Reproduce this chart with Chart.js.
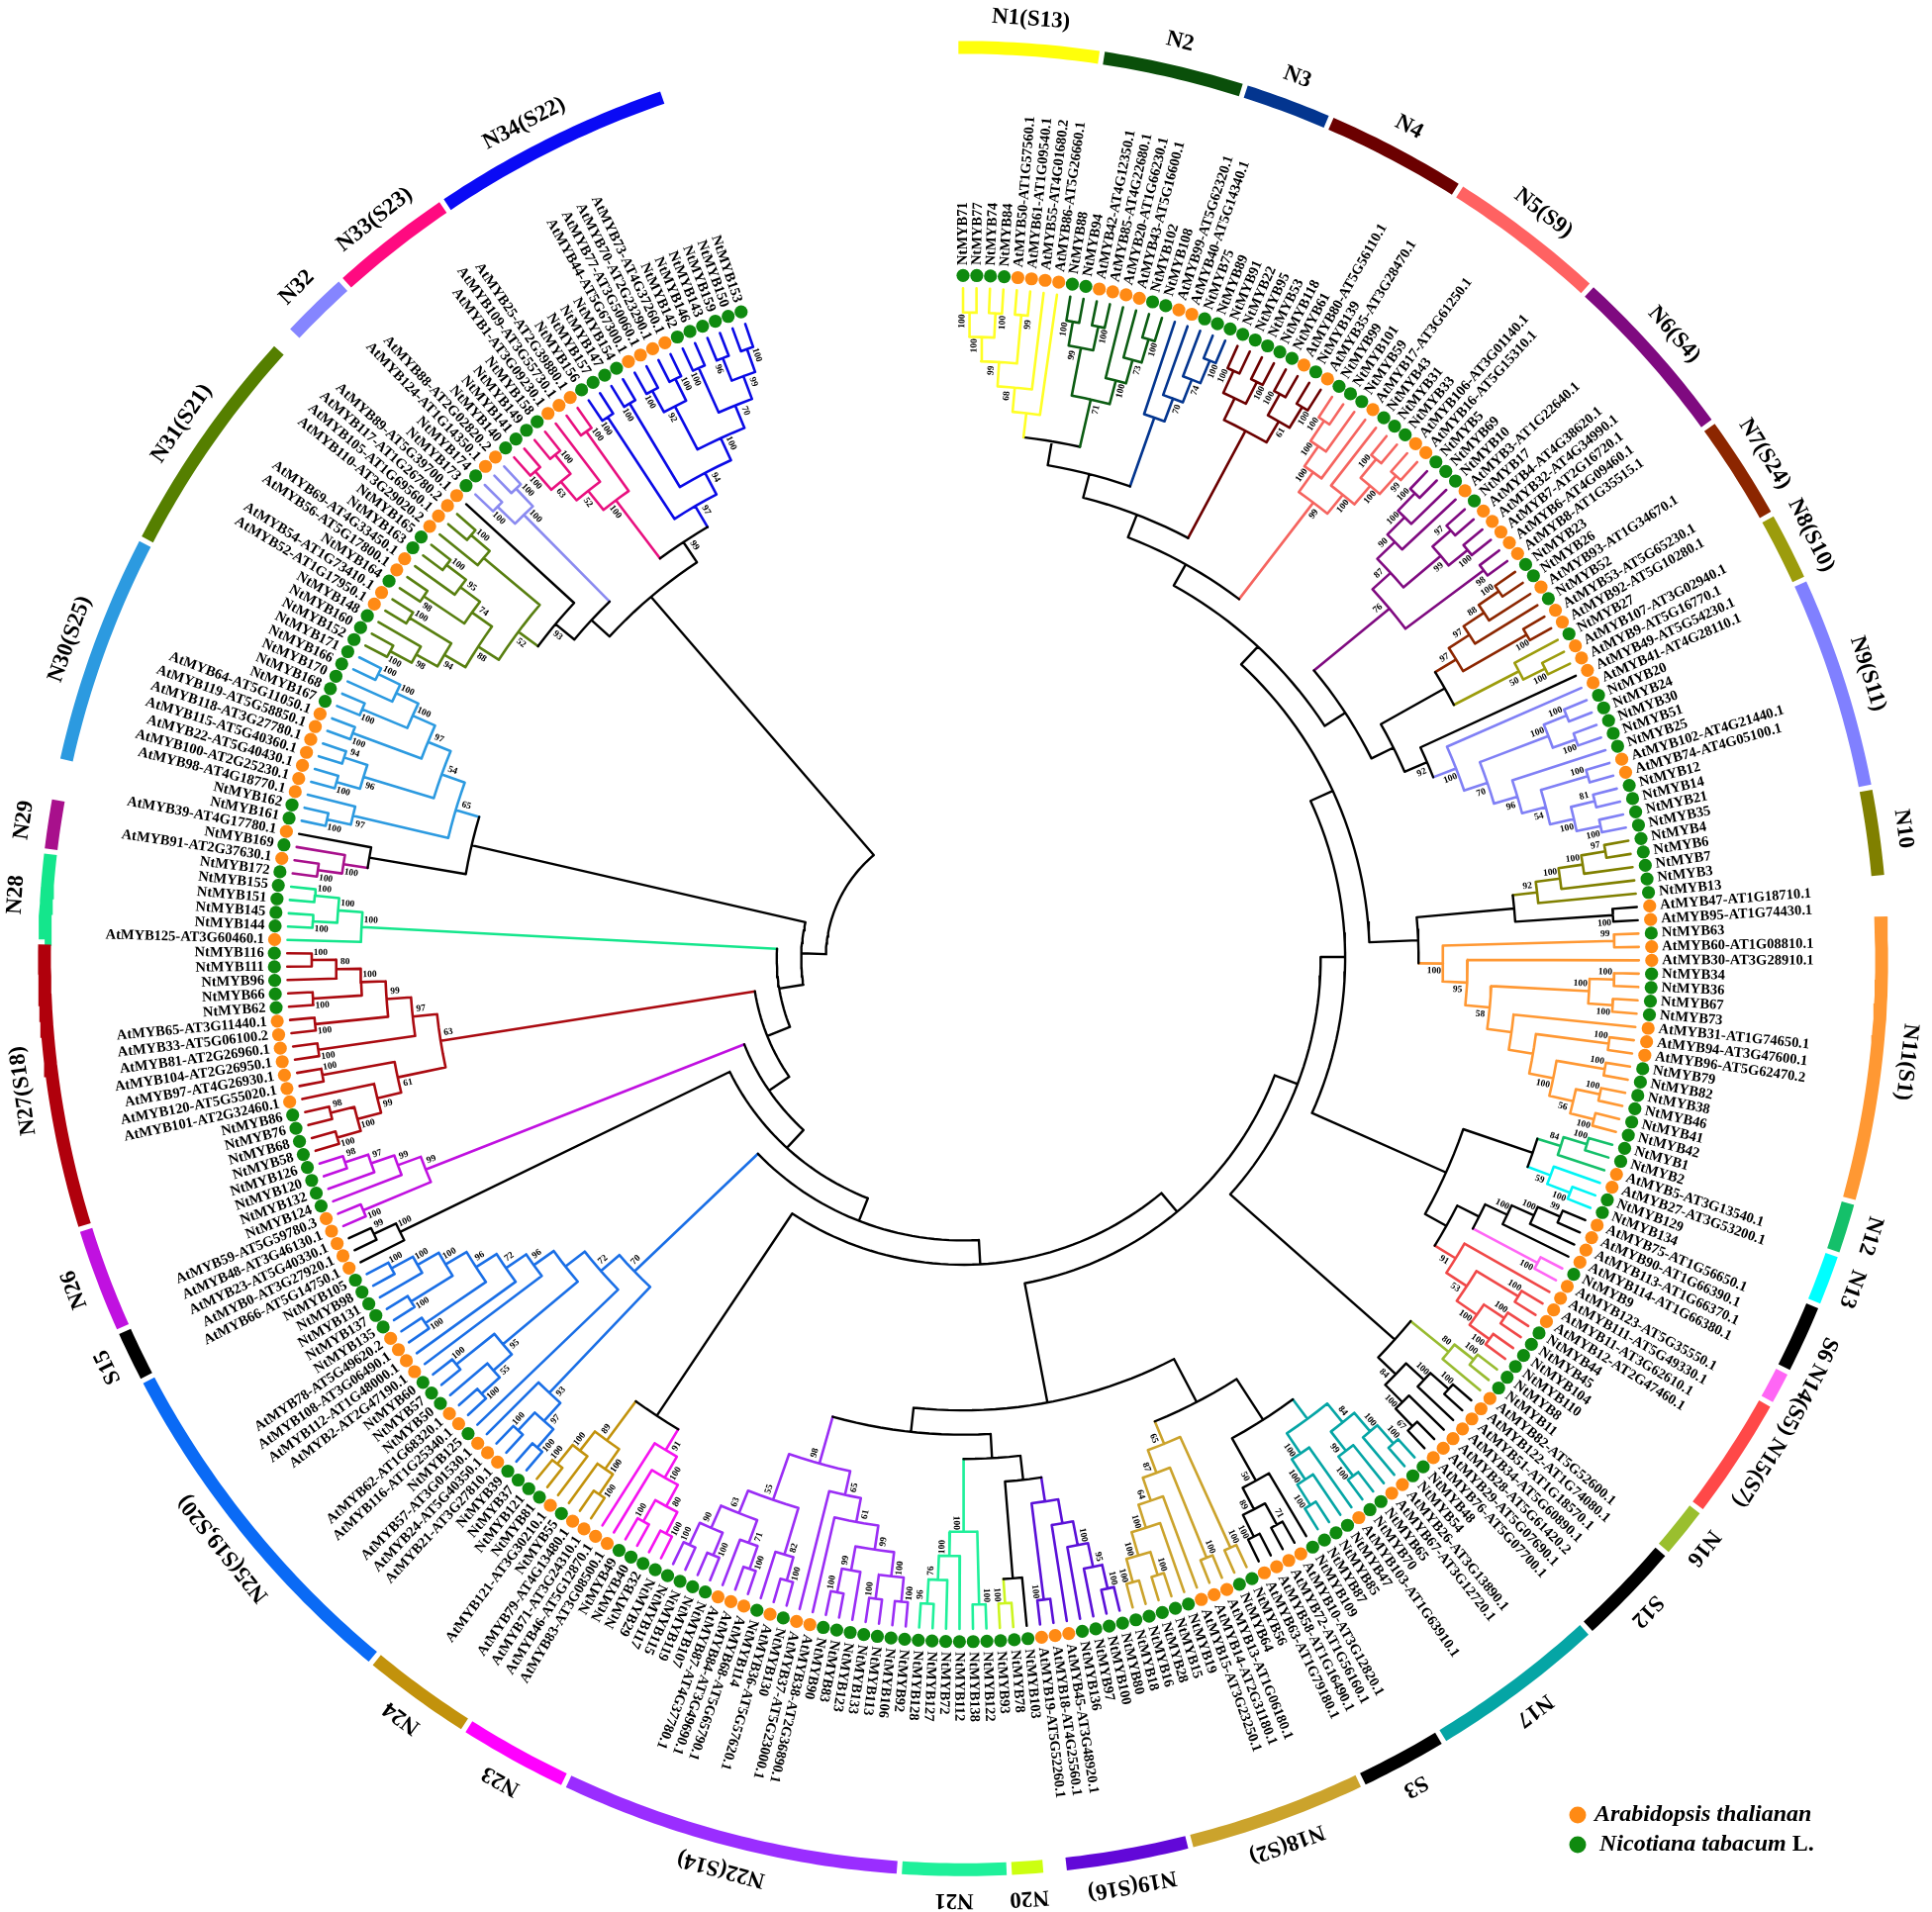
<!DOCTYPE html>
<html><head><meta charset="utf-8">
<style>html,body{margin:0;padding:0;background:#fff}canvas{display:block}</style>
<script src="https://cdn.jsdelivr.net/npm/chart.js@4"></script>
</head><body>
<canvas id="c" width="1952" height="1932"></canvas>
<script>
// ---------- leaves, clockwise from the top ----------
const leafNames = [
"NtMYB71","NtMYB77","NtMYB74","NtMYB84","AtMYB50-AT1G57560.1","AtMYB61-AT1G09540.1","AtMYB55-AT4G01680.2","AtMYB86-AT5G26660.1",
"NtMYB88","NtMYB94","AtMYB42-AT4G12350.1","AtMYB85-AT4G22680.1","AtMYB20-AT1G66230.1","AtMYB43-AT5G16600.1","NtMYB102","NtMYB108",
"AtMYB99-AT5G62320.1","AtMYB40-AT5G14340.1","NtMYB75","NtMYB89","NtMYB91",
"NtMYB22","NtMYB95","NtMYB53","NtMYB118","NtMYB61","AtMYB80-AT5G56110.1","NtMYB139","AtMYB35-AT3G28470.1",
"NtMYB99","NtMYB101","NtMYB59","AtMYB17-AT3G61250.1","NtMYB43","NtMYB31","NtMYB33","AtMYB106-AT3G01140.1","AtMYB16-AT5G15310.1",
"NtMYB5","NtMYB69","NtMYB10","AtMYB3-AT1G22640.1","NtMYB17","AtMYB4-AT4G38620.1","AtMYB32-AT4G34990.1","AtMYB7-AT2G16720.1","AtMYB6-AT4G09460.1","AtMYB8-AT1G35515.1",
"NtMYB23","NtMYB26","AtMYB93-AT1G34670.1","NtMYB52","AtMYB53-AT5G65230.1","AtMYB92-AT5G10280.1",
"NtMYB27","AtMYB107-AT3G02940.1","AtMYB9-AT5G16770.1","AtMYB49-AT5G54230.1",
"AtMYB41-AT4G28110.1","NtMYB20","NtMYB24","NtMYB30","NtMYB51","NtMYB25","AtMYB102-AT4G21440.1","AtMYB74-AT4G05100.1","NtMYB12","NtMYB14","NtMYB21","NtMYB35",
"NtMYB4","NtMYB6","NtMYB7","NtMYB3","NtMYB13","AtMYB47-AT1G18710.1","AtMYB95-AT1G74430.1",
"NtMYB63","AtMYB60-AT1G08810.1","AtMYB30-AT3G28910.1","NtMYB34","NtMYB36","NtMYB67","NtMYB73","AtMYB31-AT1G74650.1","AtMYB94-AT3G47600.1","AtMYB96-AT5G62470.2","NtMYB79","NtMYB82","NtMYB38","NtMYB46","NtMYB41","NtMYB42",
"NtMYB1","NtMYB2","AtMYB5-AT3G13540.1","AtMYB27-AT3G53200.1","NtMYB129","NtMYB134",
"AtMYB75-AT1G56650.1","AtMYB90-AT1G66390.1","AtMYB113-AT1G66370.1","AtMYB114-AT1G66380.1","NtMYB9","AtMYB123-AT5G35550.1",
"AtMYB111-AT5G49330.1","AtMYB11-AT3G62610.1","AtMYB12-AT2G47460.1","NtMYB44","NtMYB45","NtMYB104","NtMYB110",
"NtMYB8","NtMYB11","AtMYB82-AT5G52600.1","AtMYB122-AT1G74080.1","AtMYB51-AT1G18570.1","AtMYB34-AT5G60890.1","AtMYB28-AT5G61420.2","AtMYB29-AT5G07690.1","AtMYB76-AT5G07700.1",
"NtMYB48","NtMYB54","AtMYB26-AT3G13890.1","AtMYB67-AT3G12720.1","NtMYB65","NtMYB70","AtMYB103-AT1G63910.1","NtMYB47","NtMYB85","NtMYB87",
"NtMYB109","AtMYB10-AT3G12820.1","AtMYB72-AT1G56160.1","AtMYB58-AT1G16490.1","AtMYB63-AT1G79180.1",
"NtMYB56","NtMYB64","AtMYB13-AT1G06180.1","AtMYB14-AT2G31180.1","AtMYB15-AT3G23250.1","NtMYB19","NtMYB15","NtMYB28","NtMYB16","NtMYB18",
"NtMYB80","NtMYB100","NtMYB97","NtMYB136","AtMYB45-AT3G48920.1","AtMYB18-AT4G25560.1","AtMYB19-AT5G52260.1","NtMYB103","NtMYB78","NtMYB93",
"NtMYB122","NtMYB138","NtMYB112","NtMYB72","NtMYB127","NtMYB128",
"NtMYB92","NtMYB106","NtMYB113","NtMYB133","NtMYB123","NtMYB83","NtMYB90","AtMYB38-AT2G36890.1","AtMYB37-AT5G23000.1","NtMYB130","AtMYB36-AT5G57620.1","NtMYB114","AtMYB68-AT5G65790.1","AtMYB84-AT3G49690.1","AtMYB87-AT4G37780.1","NtMYB107","NtMYB119","NtMYB115","NtMYB117",
"NtMYB29","NtMYB32","NtMYB40","NtMYB49","AtMYB83-AT3G08500.1","AtMYB46-AT5G12870.1",
"AtMYB71-AT3G24310.1","AtMYB79-AT4G13480.1","NtMYB55","AtMYB121-AT3G30210.1","NtMYB81","NtMYB121",
"NtMYB37","NtMYB39","AtMYB21-AT3G27810.1","AtMYB24-AT5G40350.1","AtMYB57-AT3G01530.1","NtMYB125","AtMYB116-AT1G25340.1","AtMYB62-AT1G68320.1","NtMYB50","NtMYB57","NtMYB60","AtMYB2-AT2G47190.1","AtMYB112-AT1G48000.1","AtMYB108-AT3G06490.1","AtMYB78-AT5G49620.2","NtMYB135","NtMYB137","NtMYB131","NtMYB98","NtMYB105",
"AtMYB66-AT5G14750.1","AtMYB0-AT3G27920.1","AtMYB23-AT5G40330.1","AtMYB48-AT3G46130.1","AtMYB59-AT5G59780.3","NtMYB124","NtMYB132","NtMYB120","NtMYB126",
"NtMYB58","NtMYB68","NtMYB76","NtMYB86","AtMYB101-AT2G32460.1","AtMYB120-AT5G55020.1","AtMYB97-AT4G26930.1","AtMYB104-AT2G26950.1","AtMYB81-AT2G26960.1","AtMYB33-AT5G06100.2","AtMYB65-AT3G11440.1","NtMYB62","NtMYB66","NtMYB96","NtMYB111","NtMYB116",
"AtMYB125-AT3G60460.1","NtMYB144","NtMYB145","NtMYB151","NtMYB155","NtMYB172","AtMYB91-AT2G37630.1","NtMYB169","AtMYB39-AT4G17780.1",
"NtMYB161","NtMYB162","AtMYB98-AT4G18770.1","AtMYB100-AT2G25230.1","AtMYB22-AT5G40430.1","AtMYB115-AT5G40360.1","AtMYB118-AT3G27780.1","AtMYB119-AT5G58850.1","AtMYB64-AT5G11050.1","NtMYB167","NtMYB168","NtMYB170","NtMYB166","NtMYB171",
"NtMYB152","NtMYB160","NtMYB148","AtMYB52-AT1G17950.1","AtMYB54-AT1G73410.1","NtMYB164","AtMYB56-AT5G17800.1","AtMYB69-AT4G33450.1","NtMYB163","NtMYB165","AtMYB110-AT3G29020.2","AtMYB105-AT1G69560.1","AtMYB117-AT1G26780.2","AtMYB89-AT5G39700.1",
"NtMYB173","NtMYB174","AtMYB124-AT1G14350.1","AtMYB88-AT2G02820.2",
"NtMYB140","NtMYB141","NtMYB149","NtMYB158","AtMYB1-AT3G09230.1","AtMYB109-AT3G55730.1","AtMYB25-AT2G39880.1",
"NtMYB156","NtMYB157","NtMYB147","NtMYB154","AtMYB44-AT5G67300.1","AtMYB77-AT3G50060.1","AtMYB70-AT2G23290.1","AtMYB73-AT4G37260.1","NtMYB142","NtMYB146","NtMYB143","NtMYB159","NtMYB150","NtMYB153"];

// ---------- clade topologies: [bootstrap, clockwise child, clockwise child]; 0 = next leaf ----------
const N1=[0,[68,[99,[100,[100,0,0],[100,0,0]],[99,0,0]],0],0];
const N2=[71,[99,[100,0,0],[100,0,0]],[100,0,[73,0,[100,0,0]]]];
const N3=[0,0,[70,0,[74,0,[100,0,0]]]];
const N4=[0,[0,[100,0,0],[100,0,0]],[61,[100,0,0],[100,0,0]]];
const N5=[99,[100,[100,[100,0,0],0],0],[100,0,[100,[100,0,0],[99,0,0]]]];
const N6=[76,[87,[90,[100,[100,0,0],0],0],[99,[97,0,0],[100,0,0]]],[98,0,0]];
const N7=[97,[97,[88,[100,0,0],0],0],[100,0,0]];
const N8=[50,0,[100,0,0]];
const N9=[100,0,[70,[100,[100,0,0],[100,0,0]],[96,0,[54,[100,0,0],[100,[81,0,0],[100,0,0]]]]]];
const N10=[92,[100,[100,[97,0,0],0],0],0];
const N11=[100,[99,0,0],[95,0,[58,[100,[100,0,0],[100,0,0]],[0,0,[0,[100,0,0],[100,[100,0,0],[56,[100,0,0],[100,0,0]]]]]]]];
const N12=[84,[100,0,0],0];
const N13=[59,0,[100,0,0]];
const S6=[100,[100,[99,0,0],0],0];
const N14=[100,0,0];
const N15=[91,0,[53,[100,0,0],[100,[100,0,0],[100,0,0]]]];
const N16=[80,[100,0,0],0];
const S12=[84,[100,[100,0,0],0],[100,0,[67,0,0]]];
const N17=[0,[84,[100,[100,0,0],0],[99,0,[100,0,0]]],[100,0,[100,0,[100,0,0]]]];
const S3=[50,0,[89,[71,0,0],[100,0,0]]];
const N18=[65,[100,0,0],[87,[100,0,0],[64,0,[100,0,[100,[100,0,0],[100,0,0]]]]]];
const N19=[0,[0,[100,[95,[100,0,0],0],0],0],[100,0,0]];
const N20=[100,0,0];
const N21=[100,[100,0,0],[100,0,[76,0,[96,0,0]]]];
const N22=[98,[65,[61,[99,[100,[100,0,0],[100,0,0]],[99,0,[100,0,0]]],0],0],[55,[82,[100,0,0],0],[63,[71,[100,0,0],0],[90,[100,0,0],[100,0,0]]]]];
const N23=[91,[100,[80,[100,0,0],[100,0,0]],0],0];
const N24=[89,[100,[100,0,0],0],[100,0,[100,0,0]]];
const N25=[70,[93,[97,[100,0,0],[100,0,0]],0],[72,0,[0,[95,[55,[100,0,0],0],[100,0,0]],[96,0,[72,0,[96,[100,0,0],[100,[100,0,0],[100,0,[100,0,0]]]]]]]]];
const S15=[100,0,[99,0,0]];
const N26=[99,[100,0,0],[99,0,[97,0,[98,0,0]]]];
const N27=[63,[61,[99,[100,[100,0,0],[98,0,0]],0],[100,0,0]],[97,[100,0,0],[99,[100,0,0],[100,[100,0,0],[80,0,[100,0,0]]]]]];
const N28=[100,0,[100,[100,0,0],[100,0,0]]];
const N29=[100,[100,0,0],0];
const N30=[65,[97,[100,0,0],0],[54,[96,[100,0,0],[94,0,0]],[97,[100,0,0],[100,[100,0,0],[100,0,[100,0,0]]]]]];
const N31=[52,[88,[94,[98,[100,0,0],0],[100,0,0]],[74,[98,0,0],[95,0,[100,0,0]]]],[0,0,[100,0,0]]];
const N32=[100,[100,0,0],[100,0,0]];
const N33=[100,[52,[63,[100,0,0],[100,0,0]],0],[100,0,0]];
const N34=[97,[100,0,0],[94,[100,0,0],[100,[92,[100,0,0],[100,0,0]],[70,[100,0,0],[99,[96,0,0],[100,0,0]]]]]];

// ---------- backbone joining the clades ----------
const b1=[0,[0,[0,[0,N1,N2],N3],N4],N5];
const b2=[0,N6,[0,[0,N7,N8],[92,0,N9]]];
const b3=[0,[0,N10,[100,0,0]],N11];
const b4=[0,[0,b1,b2],b3];
const b5=[0,[0,N12,N13],[0,[0,S6,N14],N15]];
const b6=[0,[0,b4,b5],[0,N16,S12]];
const b7=[0,[0,N17,S3],N18];
const b8=[0,[0,[0,N19,[0,0,N20]],N21],N22];
const b9=[0,b7,b8];
const b10=[0,[0,[0,b6,b9],[0,N23,N24]],N25];
const b11=[0,[0,[0,[0,b10,S15],N26],N27],N28];
const b12=[0,[0,N29,0],N30];
const b13=[0,[0,[93,N31,0],N32],[99,N33,N34]];
const treeRoot=[0,[0,b11,b12],b13];

const cladeColours=new Map([[N1,"#ffff26"],[N2,"#0b5c12"],[N3,"#03358f"],[N4,"#6b0000"],[N5,"#f5645f"],[N6,"#7f0a80"],[N7,"#8c2600"],[N8,"#9c9c0c"],[N9,"#8080f5"],[N10,"#808000"],[N11,"#ff9833"],[N12,"#14c06a"],[N13,"#00f5f5"],[N14,"#ff66f5"],[N15,"#f04848"],[N16,"#98bb30"],[N17,"#05a5a5"],[N18,"#cba32c"],[N19,"#5a10d8"],[N20,"#ccf520"],[N21,"#1ff09a"],[N22,"#9a2df5"],[N23,"#f514f0"],[N24,"#c2920c"],[N25,"#1a6fe6"],[N26,"#c011e0"],[N27,"#aa0a10"],[N28,"#14e68c"],[N29,"#a8108c"],[N30,"#2c9ae0"],[N31,"#587f10"],[N32,"#8a8af0"],[N33,"#e8107f"],[N34,"#0a0ae6"]]);

// ---------- outer ring: name, colour, number of leaves covered (blank name = gap) ----------
const ringNames =["N1(S13)","N2","N3","N4","N5(S9)","N6(S4)","N7(S24)","N8(S10)","N9(S11)","N10","","N11(S1)","N12","N13","S6","N14(S5)","N15(S7)","N16","S12","N17","S3","N18(S2)","N19(S16)","","N20","N21","N22(S14)","N23","N24","N25(S19,S20)","S15","N26","N27(S18)","N28","N29","","N30(S25)","N31(S21)","","N32","N33(S23)","N34(S22)"];
const ringCounts=[8,8,5,8,9,10,6,4,12,5,2,16,3,3,4,2,7,3,6,10,5,10,7,1,2,6,19,6.25,6.25,20,3,6,16,5,3,2,13,13,1,4,7,13.5];
const ringColours=["#ffff0a","#0a4f0a","#03358f","#6b0000","#ff6262","#7f0a80","#8c2600","#9c9c0c","#8080ff","#808000","","#ff9833","#14c06a","#00ffff","#000","#ff66f5","#ff4848","#9abf2e","#000","#05a5a5","#000","#cba32c","#6208d8","","#ccff10","#1ff09a","#9a2dff","#ff00ff","#c2920c","#0a6af5","#000","#c011e0","#b0000c","#14e68c","#a8108c","","#2c9ae0","#557f00","","#8585ff","#ff0a80","#0a0af5"];
const ringNameShift={"N34(S22)":-0.9};

const legendNames=["Arabidopsis thalianan","Nicotiana tabacum"];
const orange="#ff8a14", green="#0f8a0f";

// ---------- geometry ----------
const W=1952,H=1932,CX=973,CY=968.6,XS=1.008;
const TH_END=341.2, R_DOT=695, R_TIP=682, STEP=24.7, R_RING=927, R_NAME=958, R_LEAF=705.5, FLIP=207;
const thOf=i=>i*TH_END/(leafNames.length-1);
const rOf=h=>R_TIP-h*STEP;
const pol=(r,th)=>({x:r*Math.sin(th*Math.PI/180),y:r*Math.cos(th*Math.PI/180)});

// ---------- tree layout ----------
const seg=new Map(), boots=[];
let leafIdx=0;
function put(col,pts){ if(!seg.has(col))seg.set(col,[]); const s=seg.get(col); if(s.length)s.push({x:null,y:null}); pts.forEach(p=>s.push(p)); }
function lay(n,col,side){
  if(n===0){ return {h:0,th:thOf(leafIdx++)}; }
  const own=cladeColours.get(n)||col;
  const a=lay(n[1],own,-1), b=lay(n[2],own,1);
  const h=1+Math.max(a.h,b.h), th=(a.th+b.th)/2, r=rOf(h);
  const arc=[]; const k=Math.max(2,Math.ceil(Math.abs(b.th-a.th)/1.5));
  for(let i=0;i<=k;i++)arc.push(pol(r,a.th+(b.th-a.th)*i/k));
  put(own,arc);
  for(const c of [a,b]) put(c.col||own,[pol(r,c.th),pol(rOf(c.h),c.th)]);
  if(n[0]) boots.push({v:n[0],r,th,side});
  return {h,th,col:own};
}
lay(treeRoot,"#000",0);

// ---------- datasets ----------
const datasets=[];
seg.forEach((pts,col)=>datasets.push({data:pts,showLine:true,borderColor:col,borderWidth:col==="#000"?2.4:2.6,pointRadius:0,spanGaps:false,borderCapStyle:"round",borderJoinStyle:"miter",tension:0}));
const ringTexts=[]; let acc=0; const D=341.5/leafNames.length, RING0=-0.45;
ringCounts.forEach((c,i)=>{
  const a=RING0+acc*D+0.16,b=RING0+(acc+c)*D-0.16; acc+=c;
  if(!ringNames[i])return;
  const pts=[]; const k=Math.ceil((b-a)/0.5);
  for(let j=0;j<=k;j++)pts.push(pol(R_RING,a+(b-a)*j/k));
  datasets.push({data:pts,showLine:true,borderColor:ringColours[i],borderWidth:13,pointRadius:0,borderCapStyle:"butt",tension:0});
  ringTexts.push({t:ringNames[i],th:(a+b)/2+(ringNameShift[ringNames[i]]||0)});
});
datasets.push({data:leafNames.map((n,i)=>pol(R_DOT,thOf(i))),showLine:false,pointRadius:6.6,pointBorderWidth:0,
  pointBackgroundColor:leafNames.map(n=>n.startsWith("At")?orange:green)});

const textPlugin={id:"texts",
  beforeDraw(ch){const c=ch.ctx;c.save();c.fillStyle="#fff";c.fillRect(0,0,W,H);c.restore();},
  afterDatasetsDraw(ch){
    const c=ch.ctx,sx=ch.scales.x,sy=ch.scales.y;
    const put=(t,r,th,ang,al,font)=>{const p=pol(r,th);c.save();c.translate(sx.getPixelForValue(p.x),sy.getPixelForValue(p.y));c.rotate(ang*Math.PI/180);c.textAlign=al;c.textBaseline="middle";c.font=font;c.fillStyle="#000";c.fillText(t,0,0);c.restore();};
    const serif='"Liberation Serif","Times New Roman",serif';
    leafNames.forEach((n,i)=>{const th=thOf(i);
      if(th<FLIP)put(n,R_LEAF,th,th-90,"left","bold 14.5px "+serif);
      else put(n,R_LEAF,th,th-270,"right","bold 14.5px "+serif);
    });
    boots.forEach(b=>{
      const r=b.r-9, th=b.th+(b.side*7.5/r)*180/Math.PI;
      let ang=b.th-90; while(ang>90)ang-=180; while(ang<=-90)ang+=180;
      put(String(b.v),r,th,ang,"center","bold 9.5px "+serif);
    });
    ringTexts.forEach(t=>put(t.t,R_NAME,t.th,t.th,"center","bold 23px "+serif));
    // legend
    const lx=1594,ly=[1834,1864];
    [orange,green].forEach((col,i)=>{c.beginPath();c.arc(lx,ly[i],8.5,0,7);c.fillStyle=col;c.fill();});
    c.fillStyle="#000";c.textAlign="left";c.textBaseline="middle";
    c.font="italic bold 24px "+serif;c.fillText(legendNames[0],lx+17,ly[0]);
    c.fillText(legendNames[1],lx+22,ly[1]);
    const w=c.measureText(legendNames[1]).width;
    c.font="bold 24px "+serif;c.fillText(" L.",lx+22+w,ly[1]);
  }};

new Chart(document.getElementById("c"),{type:"scatter",data:{datasets},plugins:[textPlugin],
 options:{responsive:false,animation:false,devicePixelRatio:1,layout:{padding:0},
  plugins:{legend:{display:false},tooltip:{enabled:false}},
  events:[],
  scales:{x:{type:"linear",display:false,min:-CX/XS,max:(W-CX)/XS},y:{type:"linear",display:false,min:-(H-CY),max:CY}}}});
</script>
</body></html>
